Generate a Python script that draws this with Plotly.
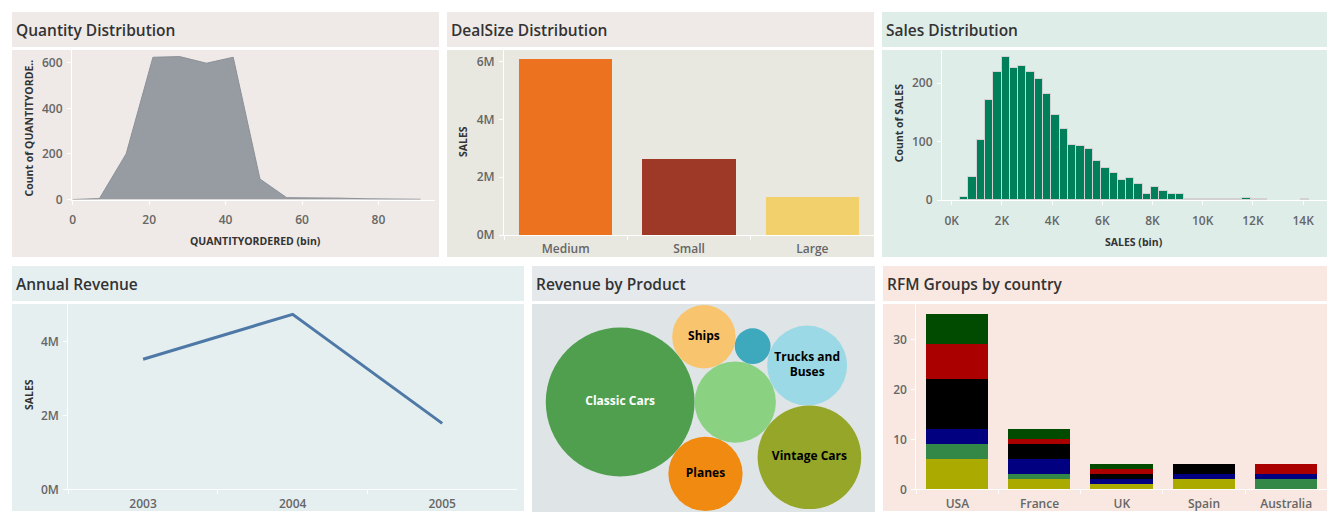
import math
import plotly.graph_objects as go

W, H = 1338, 522

# ------------------------------------------------------------------ data
QTY_BIN = 7
QTY_COUNTS = [0, 4, 201, 625, 628, 599, 625, 90, 8, 8, 6, 3, 2, 1]

DEAL_SIZES = ["Medium", "Small", "Large"]
DEAL_SALES = [6.09e6, 2.62e6, 1.31e6]

SALES_BIN = 331
SALES_COUNTS = [0, 6, 40, 102, 172, 220, 245, 227, 229, 220, 207, 182, 146, 122,
                95, 93, 88, 67, 54, 47, 35, 37, 27, 10, 22, 16, 10, 10, 2, 2, 2,
                1, 1, 1, 1, 3, 1, 1, 0, 0, 0, 0, 1]

YEARS = ["2003", "2004", "2005"]
YEAR_SALES = [3.53e6, 4.75e6, 1.79e6]

PRODUCTS = ["Classic Cars", "Motorcycles", "Planes", "Ships", "Trains",
            "Trucks and Buses", "Vintage Cars"]
PRODUCT_REVENUE = [3.92e6, 1.17e6, 0.975e6, 0.714e6, 0.226e6, 1.13e6, 1.90e6]
PRODUCT_LABELS = ["Classic Cars", "", "Planes", "Ships", "", "Trucks and<br>Buses",
                  "Vintage Cars"]

COUNTRIES = ["USA", "France", "UK", "Spain", "Australia"]
RFM_GROUP_NAMES = ["Group 1", "Group 2", "Group 3", "Group 4", "Group 5", "Group 6"]
RFM_G1 = [6, 2, 1, 2, 0]
RFM_G2 = [3, 1, 0, 0, 2]
RFM_G3 = [3, 3, 1, 1, 1]
RFM_G4 = [10, 3, 1, 2, 0]
RFM_G5 = [7, 1, 1, 0, 2]
RFM_G6 = [6, 2, 1, 0, 0]

# ------------------------------------------------------------------ styles
FONT = "Open Sans, Lato, sans-serif"
TICKFONT = dict(family=FONT, size=12, color="#666666", weight=600)
AXTITLE_FONT = dict(family=FONT, size=10.5, color="#333333", weight=700)
TITLE_FONT = dict(family=FONT, size=15.5, color="#333333", weight=600)

DEAL_COLORS = ["#ed7220", "#9e3827", "#f2d06b"]
PRODUCT_COLORS = ["#4f9f4f", "#8ad182", "#f08a10", "#f9c46e", "#3ea8bd",
                  "#9ad9e5", "#95a629"]
PRODUCT_TEXT_COLORS = ["white", "black", "black", "black", "black", "black", "black"]
RFM_COLORS = ["#aaaa00", "#338848", "#000080", "#000000", "#aa0000", "#004b00"]

# panels: x0, x1, title y0, title y1, plot y0, plot y1, title colour, plot colour, title
PANELS = [
    (12, 439, 12, 47, 50, 257, "#efeae7", "#efeae7", "Quantity Distribution"),
    (447, 874, 12, 47, 50, 257, "#efeae7", "#e8e8e0", "DealSize Distribution"),
    (882, 1327, 12, 47, 50, 257, "#dfede9", "#dfede9", "Sales Distribution"),
    (12, 524, 266, 301, 304, 511, "#e6eff0", "#e6eff0", "Annual Revenue"),
    (532, 875, 266, 301, 304, 512, "#e5e9ec", "#dfe5e6", "Revenue by Product"),
    (883, 1327, 266, 301, 304, 511, "#f9e8e1", "#f9e8e1", "RFM Groups by country"),
]


def px_x(x):
    return x / W


def px_y(y):
    return 1 - y / H


def dom_x(x0, x1):
    return [px_x(x0), px_x(x1)]


def dom_y(y0, y1):
    return [px_y(y1), px_y(y0)]


def axis(domain, anchor, **kw):
    d = dict(domain=domain, anchor=anchor, showgrid=False, zeroline=False,
             showline=True, linecolor="white", linewidth=1, ticks="outside",
             tickcolor="white", ticklen=4, tickwidth=1, tickfont=TICKFONT,
             fixedrange=True, automargin=False)
    d.update(kw)
    return d


fig = go.Figure()

# ---------------- panel 1: quantity area
qx = [i * QTY_BIN for i in range(len(QTY_COUNTS))]
fig.add_trace(go.Scatter(x=qx, y=QTY_COUNTS, mode="lines", fill="tozeroy",
                         line=dict(color="#8b9097", width=1),
                         fillcolor="#979ca3", xaxis="x", yaxis="y"))

# ---------------- panel 2: deal size bars
fig.add_trace(go.Bar(x=DEAL_SIZES, y=DEAL_SALES, marker=dict(color=DEAL_COLORS, line_width=0),
                     width=0.755, xaxis="x2", yaxis="y2"))

# ---------------- panel 3: sales histogram
sx, sy = [], []
for i, c in enumerate(SALES_COUNTS):
    if c > 0:
        sx.append((i + 0.5) * SALES_BIN)
        sy.append(c)
fig.add_trace(go.Bar(x=sx, y=sy, width=SALES_BIN,
                     marker=dict(color="#007f5b", line=dict(color="#d2d2d2", width=1)),
                     xaxis="x3", yaxis="y3"))

# ---------------- panel 4: annual revenue line
fig.add_trace(go.Scatter(x=YEARS, y=YEAR_SALES, mode="lines",
                         line=dict(color="#4e79a7", width=3), xaxis="x4", yaxis="y4"))

# ---------------- panel 5: packed bubbles
# packing order: each bubble touches the two named bubbles, on the given side
PACK_ORDER = [
    ("Classic Cars", None, None, 0),
    ("Motorcycles", "Classic Cars", None, 0),
    ("Planes", "Classic Cars", "Motorcycles", -1),
    ("Ships", "Classic Cars", "Motorcycles", 1),
    ("Trains", "Ships", "Motorcycles", 1),
    ("Trucks and Buses", "Motorcycles", "Trains", -1),
    ("Vintage Cars", "Motorcycles", "Trucks and Buses", -1),
]


def pack(names, values, order):
    r = {n: math.sqrt(v) for n, v in zip(names, values)}
    pos = {}
    for name, a, b, side in order:
        if a is None:
            pos[name] = (0.0, 0.0)
            continue
        if b is None:
            ax, ay = pos[a]
            pos[name] = (ax + r[a] + r[name], ay)
            continue
        (ax, ay), (bx, by) = pos[a], pos[b]
        ra, rb = r[a] + r[name], r[b] + r[name]
        dx, dy = bx - ax, by - ay
        d = math.hypot(dx, dy)
        ux, uy = dx / d, dy / d
        t = (ra * ra - rb * rb + d * d) / (2 * d)
        h = math.sqrt(max(ra * ra - t * t, 0.0))
        pxv, pyv = -uy * side, ux * side
        pos[name] = (ax + t * ux + h * pxv, ay + t * uy + h * pyv)
    return pos, r


P5_X0, P5_X1, P5_Y0, P5_Y1 = 532, 875, 304, 512
PW, PH = P5_X1 - P5_X0, P5_Y1 - P5_Y0
pos, rad = pack(PRODUCTS, PRODUCT_REVENUE, PACK_ORDER)
xmin = min(pos[n][0] - rad[n] for n in PRODUCTS)
xmax = max(pos[n][0] + rad[n] for n in PRODUCTS)
ymin = min(pos[n][1] - rad[n] for n in PRODUCTS)
ymax = max(pos[n][1] + rad[n] for n in PRODUCTS)
pad = 1.0
s = min((PW - 2 * pad) / (xmax - xmin), (PH - 2 * pad) / (ymax - ymin))
cxb, cyb = (xmin + xmax) / 2, (ymin + ymax) / 2
bx = [(pos[n][0] - cxb) * s + PW / 2 for n in PRODUCTS]
by = [(pos[n][1] - cyb) * s + PH / 2 for n in PRODUCTS]
bsize = [2 * rad[n] * s for n in PRODUCTS]
fig.add_trace(go.Scatter(x=bx, y=by, mode="markers+text", text=PRODUCT_LABELS,
                         textposition="middle center",
                         textfont=dict(family=FONT, size=12, color=PRODUCT_TEXT_COLORS, weight=700),
                         marker=dict(size=bsize, sizemode="diameter", color=PRODUCT_COLORS,
                                     opacity=1, line=dict(width=0)),
                         hovertext=PRODUCTS, xaxis="x5", yaxis="y5"))

# ---------------- panel 6: RFM stacked bars
for name, vals, col in zip(RFM_GROUP_NAMES, [RFM_G1, RFM_G2, RFM_G3, RFM_G4, RFM_G5, RFM_G6],
                           RFM_COLORS):
    fig.add_trace(go.Bar(x=COUNTRIES, y=vals, name=name, width=0.756,
                         marker=dict(color=col, line_width=0), xaxis="x6", yaxis="y6"))

# ---------------- axes
def m_ticks(vals):
    return [f"{v / 1e6:.0f}M" for v in vals]


qy_ticks = [0, 200, 400, 600]
deal_ticks = [0, 2e6, 4e6, 6e6]
sales_x_ticks = list(range(0, 14001, 2000))
rev_ticks = [0, 2e6, 4e6]

layout_axes = dict(
    xaxis=axis(dom_x(72, 435), "y", range=[-0.18, 94.8], tickvals=[0, 20, 40, 60, 80],
               ticklabelstandoff=5),
    yaxis=axis(dom_y(50, 199.5), "x", range=[0, 657], tickvals=qy_ticks, ticklabelstandoff=2),
    xaxis2=axis(dom_x(504, 874), "y2", type="category", range=[-0.5, 2.5],
                tickson="boundaries", ticklabelstandoff=3),
    yaxis2=axis(dom_y(50, 235), "x2", range=[0, 6.4e6], tickvals=deal_ticks,
                ticktext=m_ticks(deal_ticks), ticklabelstandoff=2),
    xaxis3=axis(dom_x(942, 1327), "y3", range=[-386, 14952], tickvals=sales_x_ticks,
                ticktext=[f"{v // 1000}K" for v in sales_x_ticks], ticklabelstandoff=6),
    yaxis3=axis(dom_y(50, 200), "x3", range=[0, 257], tickvals=[0, 100, 200],
                ticklabelstandoff=2),
    xaxis4=axis(dom_x(68.3, 517), "y4", type="category", range=[-0.5, 2.5],
                tickson="boundaries", ticklabelstandoff=3),
    yaxis4=axis(dom_y(304, 489.3), "x4", range=[0, 5.03e6], tickvals=rev_ticks,
                ticktext=m_ticks(rev_ticks), ticklabelstandoff=2),
    xaxis5=dict(domain=dom_x(P5_X0, P5_X1), anchor="y5", range=[0, PW], visible=False,
                fixedrange=True, automargin=False),
    yaxis5=dict(domain=dom_y(P5_Y0, P5_Y1), anchor="x5", range=[0, PH], visible=False,
                fixedrange=True, automargin=False),
    xaxis6=axis(dom_x(916.3, 1327.3), "y6", type="category", range=[-0.5, 4.5],
                tickson="boundaries", ticklabelstandoff=3),
    yaxis6=axis(dom_y(304, 489.3), "x6", range=[0, 37.06], tickvals=[0, 10, 20, 30],
                ticklabelstandoff=2),
)

# ---------------- backgrounds and titles
shapes, annotations = [], []
for (x0, x1, ty0, ty1, py0, py1, tc, pc, title) in PANELS:
    shapes.append(dict(type="rect", xref="paper", yref="paper", x0=px_x(x0), x1=px_x(x1),
                       y0=px_y(ty1), y1=px_y(ty0), fillcolor=tc, line_width=0, layer="below"))
    shapes.append(dict(type="rect", xref="paper", yref="paper", x0=px_x(x0), x1=px_x(x1),
                       y0=px_y(py1), y1=px_y(py0), fillcolor=pc, line_width=0, layer="below"))
    annotations.append(dict(text=title, xref="paper", yref="paper", x=px_x(x0 + 2),
                            y=px_y((ty0 + ty1) / 2), xanchor="left", yanchor="middle",
                            showarrow=False, font=TITLE_FONT))

AXIS_TITLES = [
    ("QUANTITYORDERED (bin)", 255.7, 240.5, 0),
    ("Count of QUANTITYORDE..", 29, 128.5, -90),
    ("SALES", 463, 142, -90),
    ("Count of SALES", 898.7, 123.5, -90),
    ("SALES (bin)", 1134, 241.5, 0),
    ("SALES", 29, 395, -90),
]
for text, x, y, ang in AXIS_TITLES:
    annotations.append(dict(text=text, xref="paper", yref="paper", x=px_x(x), y=px_y(y),
                            xanchor="center", yanchor="middle", textangle=ang,
                            showarrow=False, font=AXTITLE_FONT))

fig.update_layout(
    template="none",
    width=W, height=H, autosize=False,
    margin=dict(l=0, r=0, t=0, b=0, pad=0, autoexpand=False),
    paper_bgcolor="white", plot_bgcolor="rgba(0,0,0,0)",
    showlegend=False, barmode="stack", bargap=0,
    shapes=shapes, annotations=annotations,
    font=dict(family=FONT),
    **layout_axes,
)

fig.write_html("out.html", config={"displayModeBar": False})
